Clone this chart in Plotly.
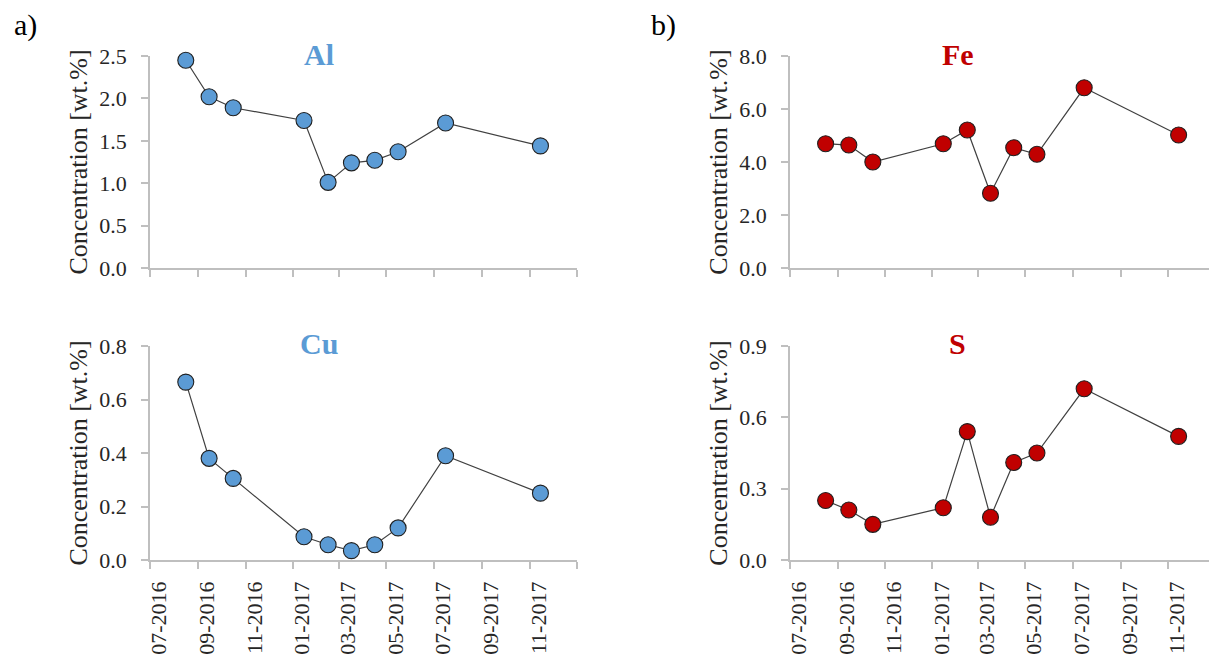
import plotly.graph_objects as go

# ---- data ----
sample_dates = ["2016-08-16", "2016-09-15", "2016-10-16", "2017-01-15", "2017-02-15",
                "2017-03-17", "2017-04-16", "2017-05-16", "2017-07-16", "2017-11-15"]
al_values = [2.45, 2.02, 1.89, 1.74, 1.01, 1.24, 1.27, 1.37, 1.71, 1.44]
cu_values = [0.665, 0.38, 0.305, 0.087, 0.057, 0.035, 0.057, 0.12, 0.39, 0.25]
fe_values = [4.69, 4.64, 4.00, 4.69, 5.21, 2.82, 4.54, 4.29, 6.80, 5.02]
s_values = [0.25, 0.21, 0.15, 0.22, 0.54, 0.18, 0.41, 0.45, 0.72, 0.52]
element_names = ["Al", "Cu", "Fe", "S"]
panel_labels = ["a)", "b)"]
y_title = "Concentration [wt.%]"
tick_dates = ["2016-07-01", "2016-09-01", "2016-11-01", "2017-01-01", "2017-03-01",
              "2017-05-01", "2017-07-01", "2017-09-01", "2017-11-01", "2018-01-01"]
tick_labels = ["07-2016", "09-2016", "11-2016", "01-2017", "03-2017",
               "05-2017", "07-2017", "09-2017", "11-2017", ""]
x_range = ["2016-07-01", "2018-01-01"]

W, H = 1217, 660
OFF = 8  # page body margin of the html page
BLUE = "#5B9BD5"
RED = "#C00000"
AXIS = "#BFBFBF"
FONT = "Liberation Serif"


def px_x(p):
    return (p - OFF) / W


def px_y(p):
    return 1 - (p - OFF) / H


fig = go.Figure()

panels = [
    (al_values, BLUE, "x", "y", (150, 577), (56, 268), [0, 2.5], 0.5, False),
    (cu_values, BLUE, "x2", "y2", (150, 577), (346, 560), [0, 0.8], 0.2, True),
    (fe_values, RED, "x3", "y3", (790, 1215), (56, 268), [0, 8.0], 2.0, False),
    (s_values, RED, "x4", "y4", (790, 1215), (346, 560), [0, 0.9], 0.3, True),
]

for i, (vals, col, xa, ya, xd, yd, yr, dt, showlab) in enumerate(panels):
    fig.add_trace(go.Scatter(
        x=sample_dates, y=vals, xaxis=xa, yaxis=ya, mode="lines+markers",
        line=dict(color="#404040", width=1.2),
        marker=dict(size=16, color=col, line=dict(color="#1f1f1f", width=1.1)),
        showlegend=False, cliponaxis=False,
    ))
    xkey = "xaxis" if xa == "x" else "xaxis" + xa[1:]
    ykey = "yaxis" if ya == "y" else "yaxis" + ya[1:]
    fig.layout[xkey] = dict(
        domain=[px_x(xd[0]), px_x(xd[1])], anchor=ya, type="date", automargin=False,
        range=x_range, tickmode="array", tickvals=tick_dates, ticktext=tick_labels,
        tickangle=-90, showticklabels=showlab, ticks="outside", ticklen=7,
        tickcolor=AXIS, tickwidth=1.5, showline=True, linecolor=AXIS, linewidth=1.5,
        showgrid=False, zeroline=False, ticklabelshift=9, ticklabelstandoff=4,
        tickfont=dict(family=FONT, size=22, color="#262626"),
    )
    fig.layout[ykey] = dict(
        domain=[px_y(yd[1]), px_y(yd[0])], anchor=xa, range=yr, dtick=dt,
        tick0=0, tickformat=".1f", ticks="outside", ticklen=7, tickcolor=AXIS,
        tickwidth=1.5, showline=True, linecolor=AXIS, linewidth=1.5, automargin=False,
        showgrid=False, zeroline=False, ticklabelstandoff=10,
        tickfont=dict(family=FONT, size=22, color="#262626"),
        title=dict(text=y_title, font=dict(family=FONT, size=26, color="#262626"),
                   standoff=4),
    )
    cx = xd[0] - 45 + (xd[1] - xd[0]) / 2
    cy = yd[0] - 2
    fig.add_annotation(
        text="<b>%s</b>" % element_names[i], xref="paper", yref="paper",
        x=px_x(cx), y=px_y(cy), xanchor="center", yanchor="middle", showarrow=False,
        font=dict(family=FONT, size=30, color=col),
    )

for lbl, px in zip(panel_labels, [25, 663]):
    fig.add_annotation(
        text=lbl, xref="paper", yref="paper", x=px_x(px), y=px_y(25),
        xanchor="center", yanchor="middle", showarrow=False,
        font=dict(family=FONT, size=30, color="#000000"),
    )

fig.update_layout(
    width=W, height=H, margin=dict(l=0, r=0, t=0, b=0),
    paper_bgcolor="white", plot_bgcolor="white",
)

fig.write_html("out.html")
